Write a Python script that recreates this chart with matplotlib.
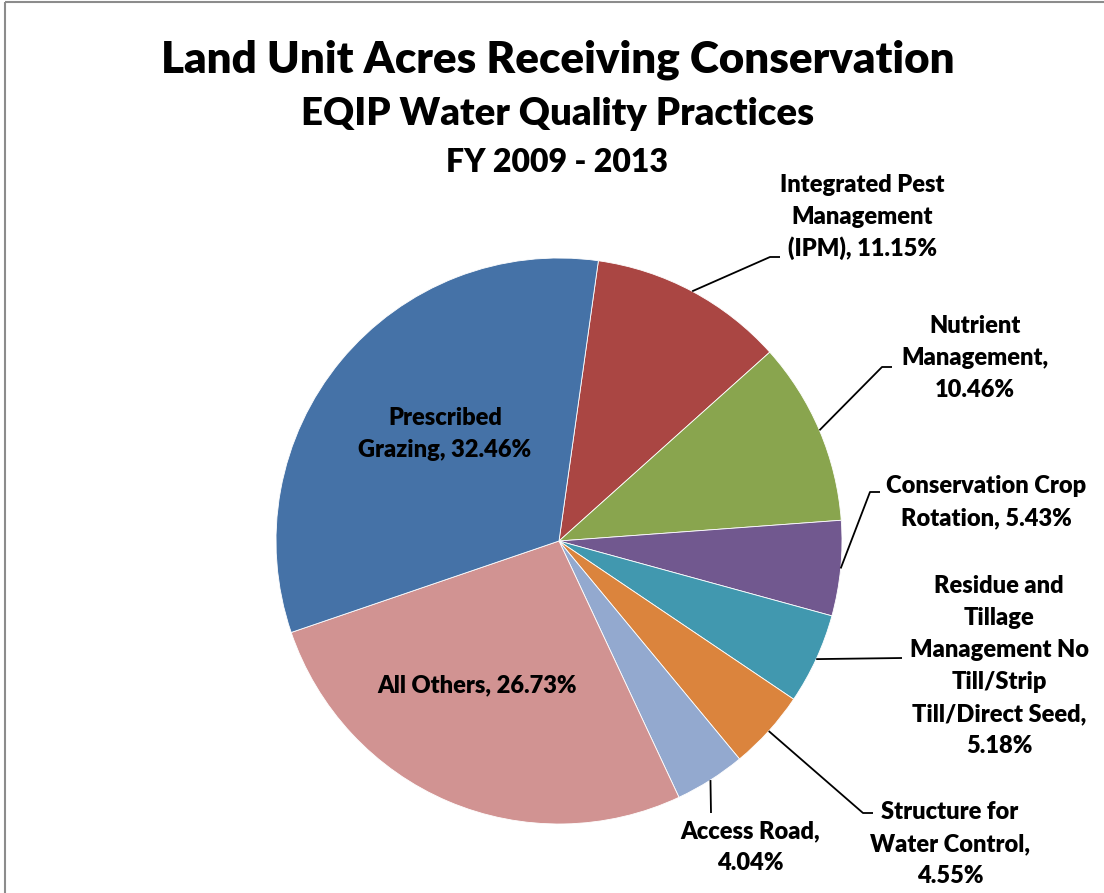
import numpy as np
import matplotlib
matplotlib.use("Agg")
import matplotlib.pyplot as plt
from matplotlib.patches import Rectangle

# -------------------- data --------------------

practices = [
    "Integrated Pest Management (IPM)",
    "Nutrient Management",
    "Conservation Crop Rotation",
    "Residue and Tillage Management No Till/Strip Till/Direct Seed",
    "Structure for Water Control",
    "Access Road",
    "All Others",
    "Prescribed Grazing",
]
shares = [11.15, 10.46, 5.43, 5.18, 4.55, 4.04, 26.73, 32.46]
colors = ["#AA4643", "#89A54E", "#71588F", "#4198AF",
          "#DB843D", "#93A9CF", "#D19392", "#4572A7"]

# label text, one entry per line
label_lines = [
    ["Integrated Pest", "Management", "(IPM), 11.15%"],
    ["Nutrient", "Management,", "10.46%"],
    ["Conservation Crop", "Rotation, 5.43%"],
    ["Residue and", "Tillage", "Management No", "Till/Strip", "Till/Direct Seed,", "5.18%"],
    ["Structure for", "Water Control,", "4.55%"],
    ["Access Road,", "4.04%"],
    ["All Others, 26.73%"],
    ["Prescribed", "Grazing, 32.46%"],
]

# -------------------- layout (pixel coords, y down) --------------------

W, H = 1104, 893
CENTER = (559, 541)
RADIUS = 283
FONT = "Lato"
WEIGHT = "heavy"
LINE_STEP = 32

# (x center, first baseline) for each label
label_pos = [(862, 192), (975, 333), (986, 493), (999, 593),
             (950, 819), (750, 838), (477, 692), (445, 425)]
# leader line bend points after the slice edge (None = label inside slice)
leaders = [
    [(770, 257), (780, 257)],
    [(882, 367), (892, 367)],
    [(870, 492), (880, 492)],
    [(902, 658)],
    [(863, 813), (873, 813)],
    [(711, 813)],
    None,
    None,
]

fig = plt.figure(figsize=(W / 100, H / 100), dpi=100)
ax = fig.add_axes([0, 0, 1, 1])

# y axis runs downward, so counterclock=True turns clockwise on screen
wedges, _ = ax.pie(shares, colors=colors, startangle=-82, counterclock=True,
                   center=CENTER, radius=RADIUS,
                   wedgeprops=dict(edgecolor="white", linewidth=0.6))
ax.set_xlim(0, W)
ax.set_ylim(H, 0)
ax.set_aspect("equal")
ax.axis("off")

for wedge, lines, (lx, ly), bends in zip(wedges, label_lines, label_pos, leaders):
    for i, line in enumerate(lines):
        ax.text(lx, ly + i * LINE_STEP, line, ha="center", va="baseline",
                fontsize=17, fontweight=WEIGHT, family=FONT, color="black")
    if bends is None:
        continue
    mid = np.deg2rad((wedge.theta1 + wedge.theta2) / 2)
    ex = CENTER[0] + RADIUS * np.cos(mid)
    ey = CENTER[1] + RADIUS * np.sin(mid)
    xs = [ex] + [p[0] for p in bends]
    ys = [ey] + [p[1] for p in bends]
    ax.plot(xs, ys, color="black", linewidth=1.3, solid_capstyle="butt")

# titles
ax.text(558, 72, "Land Unit Acres Receiving Conservation", ha="center", va="baseline",
        fontsize=31.6, fontweight=WEIGHT, family=FONT)
ax.text(558, 125, "EQIP Water Quality Practices", ha="center", va="baseline",
        fontsize=27.5, fontweight=WEIGHT, family=FONT)
ax.text(557, 172, "FY 2009 - 2013", ha="center", va="baseline",
        fontsize=23, fontweight=WEIGHT, family=FONT)

# chart area border (left and top edges visible)
ax.add_patch(Rectangle((5, 2), W + 10, H + 10, fill=False, edgecolor="#8c8c8c",
                       linewidth=1.5, clip_on=False))

fig.savefig("out.png", dpi=100)
